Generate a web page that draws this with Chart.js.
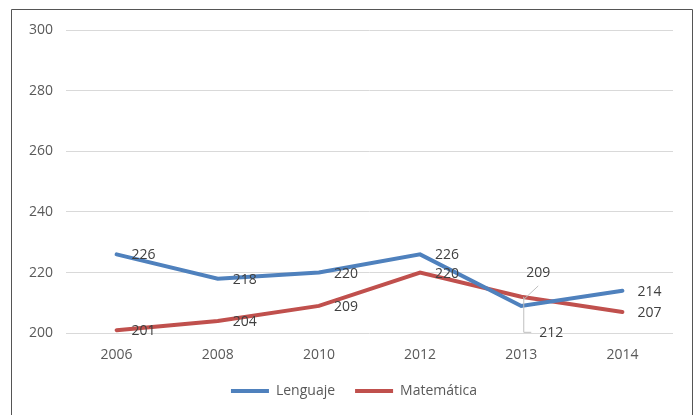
<!DOCTYPE html>
<html>
<head>
<meta charset="utf-8">
<script src="https://cdn.jsdelivr.net/npm/chart.js@4/dist/chart.umd.min.js"></script>
<style>
  html, body { margin: 0; padding: 0; background: #fff; }
  #wrap { width: 695px; height: 415px; }
</style>
</head>
<body>
<div id="wrap"><canvas id="chart" width="695" height="415"></canvas></div>
<script>
// Datos
const years = ['2006', '2008', '2010', '2012', '2013', '2014'];
const lenguaje = [226, 218, 220, 226, 209, 214];
const matematica = [201, 204, 209, 220, 212, 207];

const BLUE = '#4f81bd';
const RED = '#c0504d';

// Marco exterior (izquierda, arriba, derecha)
const framePlugin = {
  id: 'frame',
  beforeDraw(chart) {
    const ctx = chart.ctx;
    ctx.save();
    ctx.strokeStyle = '#555';
    ctx.lineWidth = 1;
    ctx.beginPath();
    ctx.moveTo(11.5, 415);
    ctx.lineTo(11.5, 9.5);
    ctx.lineTo(692.5, 9.5);
    ctx.lineTo(692.5, 415);
    ctx.stroke();
    ctx.restore();
  }
};

// Mueve la leyenda un poco, como en el original
const legendShift = {
  id: 'legendShift',
  afterLayout(chart) {
    const lg = chart.legend;
    lg.left += 12;
    lg.right += 12;
    lg.top -= 4;
    lg.bottom -= 4;
  }
};

// Etiquetas de datos a la derecha de cada punto
const labelsPlugin = {
  id: 'valueLabels',
  afterDatasetsDraw(chart) {
    const ctx = chart.ctx;
    ctx.save();
    ctx.font = '14px "Open Sans"';
    ctx.fillStyle = '#404040';
    ctx.textAlign = 'left';
    ctx.textBaseline = 'middle';
    chart.data.datasets.forEach((ds, di) => {
      const meta = chart.getDatasetMeta(di);
      meta.data.forEach((pt, i) => {
        let x = pt.x + 15;
        let y = pt.y + 1;
        // 2013: etiquetas desplazadas con línea guía
        if (i === 4) {
          ctx.strokeStyle = '#bfbfbf';
          ctx.lineWidth = 1;
          ctx.beginPath();
          if (di === 0) {
            ctx.moveTo(pt.x + 2, pt.y - 6);
            ctx.lineTo(pt.x + 17, pt.y - 20);
            x = pt.x + 5;
            y = pt.y - 33;
          } else {
            ctx.moveTo(pt.x + 2.5, pt.y);
            ctx.lineTo(pt.x + 2.5, pt.y + 35.5);
            ctx.lineTo(pt.x + 10, pt.y + 35.5);
            x = pt.x + 18;
            y = pt.y + 36;
          }
          ctx.stroke();
        }
        ctx.fillText(ds.data[i], x, y);
      });
    });
    ctx.restore();
  }
};

new Chart(document.getElementById('chart'), {
  type: 'line',
  data: {
    labels: years,
    datasets: [
      {
        label: 'Lenguaje',
        data: lenguaje,
        borderColor: BLUE,
        backgroundColor: BLUE,
        borderWidth: 4,
        borderCapStyle: 'round',
        pointRadius: 0,
        tension: 0
      },
      {
        label: 'Matemática',
        data: matematica,
        borderColor: RED,
        backgroundColor: RED,
        borderWidth: 4,
        borderCapStyle: 'round',
        pointRadius: 0,
        tension: 0
      }
    ]
  },
  options: {
    responsive: false,
    animation: false,
    layout: { padding: { left: 11, right: 22, top: 30, bottom: 3 } },
    plugins: {
      legend: {
        position: 'bottom',
        labels: {
          boxWidth: 38,
          boxHeight: 4,
          padding: 20,
          color: '#595959',
          font: { family: 'Open Sans', size: 14 },
          generateLabels(chart) {
            return Chart.defaults.plugins.legend.labels.generateLabels(chart)
              .map(item => Object.assign(item, { lineWidth: 0 }));
          }
        }
      },
      tooltip: { enabled: false }
    },
    scales: {
      x: {
        offset: true,
        grid: { display: false },
        border: { display: false },
        ticks: {
          color: '#595959',
          padding: 5,
          font: { family: 'Open Sans', size: 14 }
        }
      },
      y: {
        min: 200,
        max: 300,
        afterFit(scale) { scale.width = 55; },
        grid: { color: '#d9d9d9', drawTicks: false },
        border: { display: false },
        ticks: {
          stepSize: 20,
          color: '#595959',
          padding: 13,
          font: { family: 'Open Sans', size: 14 }
        }
      }
    }
  },
  plugins: [framePlugin, legendShift, labelsPlugin]
});
</script>
</body>
</html>
